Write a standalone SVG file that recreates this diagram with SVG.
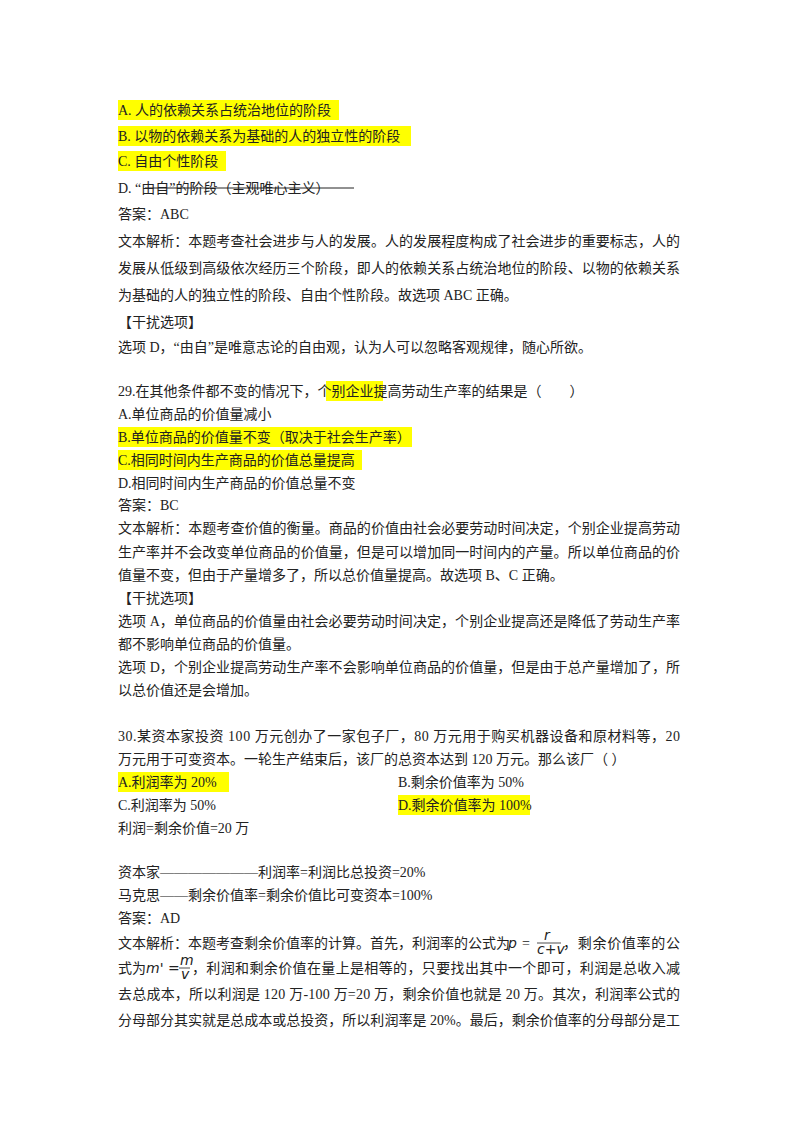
<svg xmlns="http://www.w3.org/2000/svg" width="800" height="1132" viewBox="0 0 800 1132">
<style>
text{font-family:"Liberation Serif","Noto Sans CJK SC",serif;font-size:14px;fill:#222}
.hl{fill:#ffff00}
.m{font-family:"DejaVu Sans","Noto Sans CJK SC",sans-serif;font-style:italic}
</style>
<rect width="800" height="1132" fill="#fff"/>
<rect class="hl" x="118" y="100" width="221" height="20"/>
<rect class="hl" x="118" y="126" width="293" height="20"/>
<rect class="hl" x="118" y="151" width="108" height="20"/>
<rect class="hl" x="326" y="381" width="57" height="20"/>
<rect class="hl" x="118" y="427" width="294" height="20"/>
<rect class="hl" x="118" y="450" width="244" height="20"/>
<rect class="hl" x="118" y="772" width="111" height="20"/>
<rect class="hl" x="398" y="795" width="132" height="20"/>
<text x="118" y="115">A.  人的依赖关系占统治地位的阶段</text>
<text x="118" y="141">B.  以物的依赖关系为基础的人的独立性的阶段</text>
<text x="118" y="166">C.  自由个性阶段</text>
<text x="118" y="193">D.  “由自”的阶段（主观唯心主义）</text>
<line x1="145" y1="188" x2="354" y2="188" stroke="#222" stroke-width="1"/>
<text x="118" y="219">答案：ABC</text>
<text x="118" y="246" textLength="562">文本解析：本题考查社会进步与人的发展。人的发展程度构成了社会进步的重要标志，人的</text>
<text x="118" y="273" textLength="562">发展从低级到高级依次经历三个阶段，即人的依赖关系占统治地位的阶段、以物的依赖关系</text>
<text x="118" y="300">为基础的人的独立性的阶段、自由个性阶段。故选项 ABC 正确。</text>
<text x="118" y="327">【干扰选项】</text>
<text x="118" y="352">选项 D，“由自”是唯意志论的自由观，认为人可以忽略客观规律，随心所欲。</text>
<text x="118" y="396">29.在其他条件都不变的情况下，个别企业提高劳动生产率的结果是（　　）</text>
<text x="118" y="419">A.单位商品的价值量减小</text>
<text x="118" y="442">B.单位商品的价值量不变（取决于社会生产率）</text>
<text x="118" y="465">C.相同时间内生产商品的价值总量提高</text>
<text x="118" y="488">D.相同时间内生产商品的价值总量不变</text>
<text x="118" y="510">答案：BC</text>
<text x="118" y="533" textLength="562">文本解析：本题考查价值的衡量。商品的价值由社会必要劳动时间决定，个别企业提高劳动</text>
<text x="118" y="557" textLength="562">生产率并不会改变单位商品的价值量，但是可以增加同一时间内的产量。所以单位商品的价</text>
<text x="118" y="580">值量不变，但由于产量增多了，所以总价值量提高。故选项 B、C 正确。</text>
<text x="118" y="603">【干扰选项】</text>
<text x="118" y="626" textLength="562">选项 A，单位商品的价值量由社会必要劳动时间决定，个别企业提高还是降低了劳动生产率</text>
<text x="118" y="649">都不影响单位商品的价值量。</text>
<text x="118" y="672" textLength="562">选项 D，个别企业提高劳动生产率不会影响单位商品的价值量，但是由于总产量增加了，所</text>
<text x="118" y="695">以总价值还是会增加。</text>
<text x="118" y="741" textLength="562">30.某资本家投资 100 万元创办了一家包子厂，80 万元用于购买机器设备和原材料等，20</text>
<text x="118" y="764">万元用于可变资本。一轮生产结束后，该厂的总资本达到 120 万元。那么该厂（ ）</text>
<text x="118" y="787">A.利润率为 20%</text>
<text x="398" y="787">B.剩余价值率为 50%</text>
<text x="118" y="810">C.利润率为 50%</text>
<text x="398" y="810">D.剩余价值率为 100%</text>
<text x="118" y="833">利润=剩余价值=20 万</text>
<text x="118" y="877">资本家———————利润率=利润比总投资=20%</text>
<text x="118" y="900">马克思——剩余价值率=剩余价值比可变资本=100%</text>
<text x="118" y="923">答案：AD</text>
<text x="118" y="948">文本解析：本题考查剩余价值率的计算。首先，利润率的公式为</text>
<text x="508" y="948" class="m" font-size="16">p</text>
<text x="522" y="948" font-size="15">=</text>
<text x="544" y="940" class="m" font-size="9">r</text>
<line x1="537" y1="943" x2="561" y2="943" stroke="#222" stroke-width="0.8"/>
<text x="537" y="954" class="m" font-size="9">c+v</text>
<text x="563" y="948" textLength="117">，剩余价值率的公</text>
<text x="118" y="973">式为</text>
<text x="146" y="973" class="m" font-size="16">m' =</text>
<text x="180" y="965" class="m" font-size="9">m</text>
<line x1="179" y1="968" x2="190" y2="968" stroke="#222" stroke-width="0.8"/>
<text x="181" y="979" class="m" font-size="9">v</text>
<text x="192" y="973" textLength="488">，利润和剩余价值在量上是相等的，只要找出其中一个即可，利润是总收入减</text>
<text x="118" y="999" textLength="562">去总成本，所以利润是 120 万-100 万=20 万，剩余价值也就是 20 万。其次，利润率公式的</text>
<text x="118" y="1025" textLength="562">分母部分其实就是总成本或总投资，所以利润率是 20%。最后，剩余价值率的分母部分是工</text>
</svg>
